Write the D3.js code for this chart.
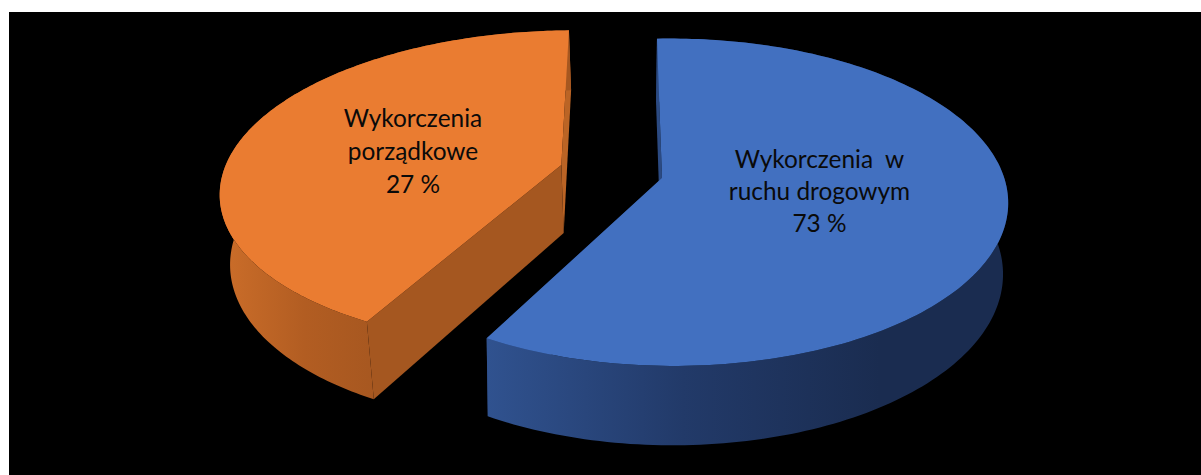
<!DOCTYPE html>
<html>
<head>
<meta charset="utf-8">
<script src="https://cdn.jsdelivr.net/npm/d3@7"></script>
<style>html,body{margin:0;padding:0;background:#fff}svg{display:block}</style>
</head>
<body>
<svg id="c" width="1201" height="475"></svg>
<script>
// Category names and the printed labels, as in the reference
const categories = ["Wykorczenia w ruchu drogowym", "Wykorczenia porządkowe"];
const labelLines = [["Wykorczenia  w", "ruchu drogowym", "73 %"], ["Wykorczenia", "porządkowe", "27 %"]];
// Shares as DRAWN in the picture (measured from the slice corners); they differ from the printed 73/27
const drawnShares = [58, 42];
const topColors = ["#4270c0", "#ea7c31"];
const wallStops = [["#30528f", "#223a69", "#1a2c50"], ["#c96c29", "#b25d22", "#a65720"]];
const startCutColors = ["#2b4a82", "#a55720"];
const endCutColors = ["#233c6c", "#bb6425"];
const explode = [[0, 0], [-0.297, 0.09]];

const svg = d3.select("#c");
svg.append("rect").attr("x", 9).attr("y", 12).attr("width", 1192).attr("height", 463).attr("fill", "#000");

const pie = d3.pie().sort(null).startAngle(-1 * Math.PI / 180).endAngle(359 * Math.PI / 180);
const arcs = pie(drawnShares);

// Perspective projection of the pie plane, one camera fit per slice
const k = 0.148;
const skew = [-0.03, 0];
const planes = [
  { top: { cx: 662, cy: 178, R: 332, S: 160 }, bottom: { cx: 661, cy: 248, R: 328, S: 168 } },
  { top: { cx: 661, cy: 179, R: 340, S: 158.4 }, bottom: { cx: 661, cy: 248, R: 332, S: 168 } }
];

const samples = (a, b) => d3.range(0, 181).map(i => a + (b - a) * i / 180);
const line = d3.line();
const defs = svg.append("defs");

arcs.forEach((d, i) => {
  const g = defs.append("linearGradient").attr("id", "wall" + i)
    .attr("gradientUnits", "userSpaceOnUse")
    .attr("x1", i === 0 ? 487 : 229).attr("x2", i === 0 ? 880 : 380).attr("y1", 0).attr("y2", 0);
  wallStops[i].forEach((c, j) => g.append("stop").attr("offset", j / 2).attr("stop-color", c));
});

arcs.forEach((d, i) => {
  const off = explode[i];
  const project = (u, v, plane) => {
    const p = planes[i][plane], w = 1 + k * v + skew[i] * u;
    return [p.cx + p.R * u / w, p.cy - p.S * v / w];
  };
  const onCircle = (t, plane) => project(Math.sin(t) + off[0], Math.cos(t) + off[1], plane);
  const apex = plane => project(off[0], off[1], plane);
  const ts = samples(d.startAngle, d.endAngle);
  const g = svg.append("g").attr("class", "slice");
  const cut = (angle, fill) => g.append("path").attr("fill", fill).attr("d", line([
    apex("top"), onCircle(angle, "top"), onCircle(angle, "bottom"), apex("bottom")
  ]) + "Z");
  // Painter's order: end cut, outer rim, start cut, top face
  cut(d.endAngle, endCutColors[i]);
  // The rim is a strip of quads, so its silhouette is the straight tangent between the two rings
  const quads = d3.pairs(ts).map(([a, b]) => line([
    onCircle(a, "top"), onCircle(b, "top"), onCircle(b, "bottom"), onCircle(a, "bottom")
  ]) + "Z").join("");
  g.append("path").attr("fill", `url(#wall${i})`).attr("d", quads);
  cut(d.startAngle, startCutColors[i]);
  g.append("path").attr("fill", topColors[i]).attr("d",
    line([apex("top")].concat(ts.map(t => onCircle(t, "top")))) + "Z");
});

const labelX = [819.5, 413];
const labelBaselines = [[168, 200, 232], [127, 160, 193]];
labelLines.forEach((lines, i) => {
  lines.forEach((s, j) => {
    svg.append("text").attr("x", labelX[i]).attr("y", labelBaselines[i][j])
      .attr("text-anchor", "middle").attr("xml:space", "preserve")
      .style("white-space", "pre")
      .attr("font-family", "Lato, 'Open Sans', sans-serif").attr("font-size", 24.4)
      .attr("fill", "#0a0a0a").text(s);
  });
});
</script>
</body>
</html>
